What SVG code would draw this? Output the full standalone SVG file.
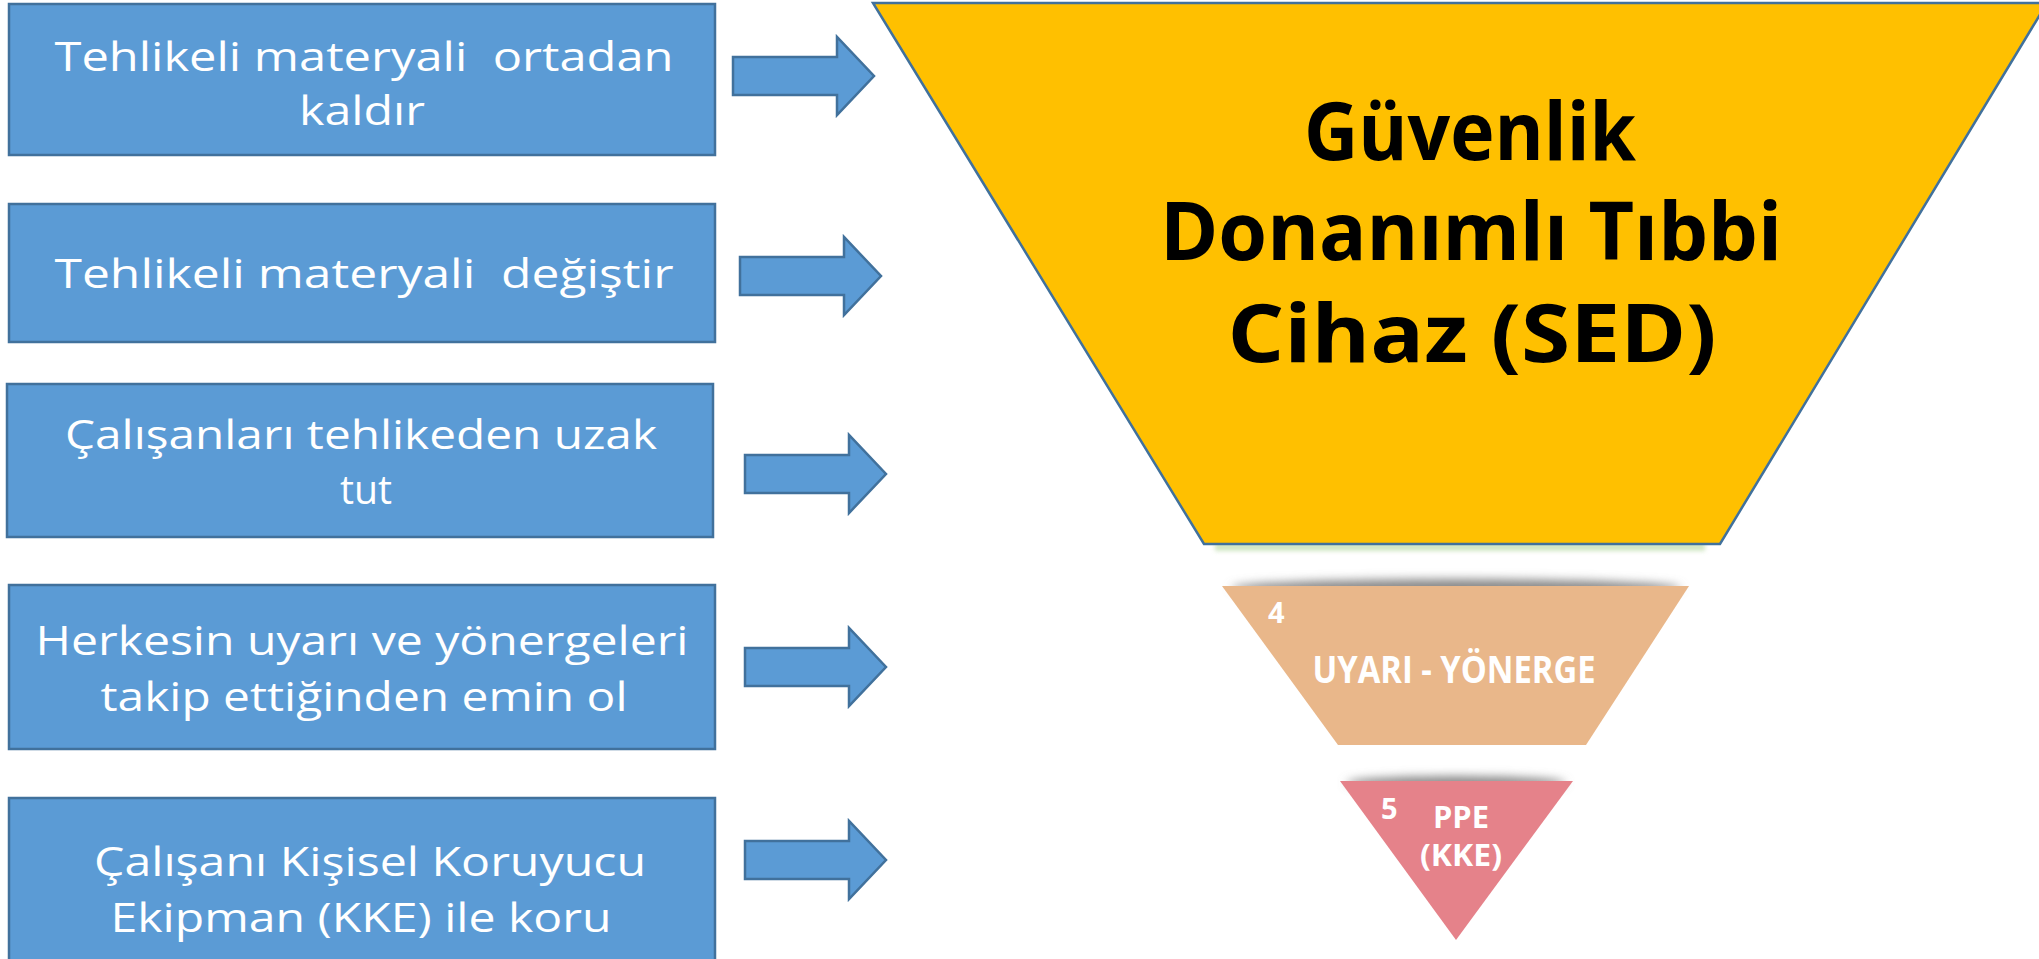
<svg xmlns="http://www.w3.org/2000/svg" width="2039" height="959" viewBox="0 0 2039 959">
  <style>
    .box { fill: #5B9BD5; stroke: #41719C; stroke-width: 2.5; }
    .btxt { font-family: "Open Sans", "Liberation Sans", sans-serif; font-size: 40px; fill: #FFFFFF; text-anchor: middle; white-space: pre; }
    .arrow { fill: #5B9BD5; stroke: #41719C; stroke-width: 2.5; stroke-linejoin: miter; }
    .ytxt { font-family: "Open Sans", "Liberation Sans", sans-serif; font-size: 80px; font-weight: bold; fill: #000000; text-anchor: middle; }
    .ftxt { font-family: "Open Sans", "Liberation Sans", sans-serif; font-weight: bold; fill: #FFFFFF; }
  </style>
  <defs>
    <filter id="blur5" x="-20%" y="-200%" width="140%" height="500%">
      <feGaussianBlur stdDeviation="5"/>
    </filter>
    <filter id="blur2" x="-20%" y="-200%" width="140%" height="500%">
      <feGaussianBlur stdDeviation="2"/>
    </filter>
    <path id="arr" d="M0,-19 H104 V-39 L141,0 L104,39 V19 H0 Z"/>
  </defs>
  <rect width="2039" height="959" fill="#FFFFFF"/>

  <g id="box1">
    <rect class="box" x="9" y="4" width="706" height="151"/>
    <text class="btxt" xml:space="preserve" x="364" y="71" textLength="619" lengthAdjust="spacingAndGlyphs">Tehlikeli materyali  ortadan</text>
    <text class="btxt" x="362" y="125" textLength="126" lengthAdjust="spacingAndGlyphs">kaldır</text>
  </g>
  <g id="box2">
    <rect class="box" x="9" y="204" width="706" height="138"/>
    <text class="btxt" xml:space="preserve" x="364" y="288" textLength="619" lengthAdjust="spacingAndGlyphs">Tehlikeli materyali  değiştir</text>
  </g>
  <g id="box3">
    <rect class="box" x="7" y="384" width="706" height="153"/>
    <text class="btxt" x="361" y="449" textLength="592" lengthAdjust="spacingAndGlyphs">Çalışanları tehlikeden uzak</text>
    <text class="btxt" x="366" y="504" textLength="52" lengthAdjust="spacingAndGlyphs">tut</text>
  </g>
  <g id="box4">
    <rect class="box" x="9" y="585" width="706" height="164"/>
    <text class="btxt" x="362" y="655" textLength="653" lengthAdjust="spacingAndGlyphs">Herkesin uyarı ve yönergeleri</text>
    <text class="btxt" x="364" y="711" textLength="527" lengthAdjust="spacingAndGlyphs">takip ettiğinden emin ol</text>
  </g>
  <g id="box5">
    <rect class="box" x="9" y="798" width="706" height="175"/>
    <text class="btxt" x="370" y="876" textLength="552" lengthAdjust="spacingAndGlyphs">Çalışanı Kişisel Koruyucu</text>
    <text class="btxt" x="361" y="932" textLength="501" lengthAdjust="spacingAndGlyphs">Ekipman (KKE) ile koru</text>
  </g>

  <g id="connectors">
    <use href="#arr" class="arrow" x="733" y="76"/>
    <use href="#arr" class="arrow" x="740" y="276"/>
    <use href="#arr" class="arrow" x="745" y="474"/>
    <use href="#arr" class="arrow" x="745" y="667"/>
    <use href="#arr" class="arrow" x="745" y="860"/>
  </g>

  <g id="sed">
    <rect x="1215" y="543" width="490" height="8" fill="#C5E0B4" opacity="0.8" filter="url(#blur2)"/>
    <polygon points="873,3 2047,3 1720,544 1204,544" fill="#FFC000" stroke="#41719C" stroke-width="2.5"/>
    <text class="ytxt" x="1470" y="160" textLength="332" lengthAdjust="spacingAndGlyphs">Güvenlik</text>
    <text class="ytxt" x="1471" y="260" textLength="622" lengthAdjust="spacingAndGlyphs">Donanımlı Tıbbi</text>
    <text class="ytxt" x="1472" y="362" textLength="489" lengthAdjust="spacingAndGlyphs">Cihaz (SED)</text>
  </g>

  <g id="uyari">
    <ellipse cx="1456" cy="588" rx="225" ry="9" fill="#8A8A8A" filter="url(#blur5)"/>
    <polygon points="1222,586 1689,586 1586,745 1338,745" fill="#E9B78A"/>
    <text class="ftxt" x="1268" y="623" font-size="29">4</text>
    <text class="ftxt" x="1454" y="683" font-size="37" text-anchor="middle" textLength="283" lengthAdjust="spacingAndGlyphs">UYARI - YÖNERGE</text>
  </g>

  <g id="ppe">
    <ellipse cx="1456" cy="783" rx="110" ry="7" fill="#8A8A8A" filter="url(#blur5)"/>
    <polygon points="1340,781 1573,781 1456,940" fill="#E5828A"/>
    <text class="ftxt" x="1381" y="819" font-size="29">5</text>
    <text class="ftxt" x="1461" y="828" font-size="30" text-anchor="middle" textLength="56" lengthAdjust="spacingAndGlyphs">PPE</text>
    <text class="ftxt" x="1461" y="866" font-size="30" text-anchor="middle" textLength="82" lengthAdjust="spacingAndGlyphs">(KKE)</text>
  </g>
</svg>
